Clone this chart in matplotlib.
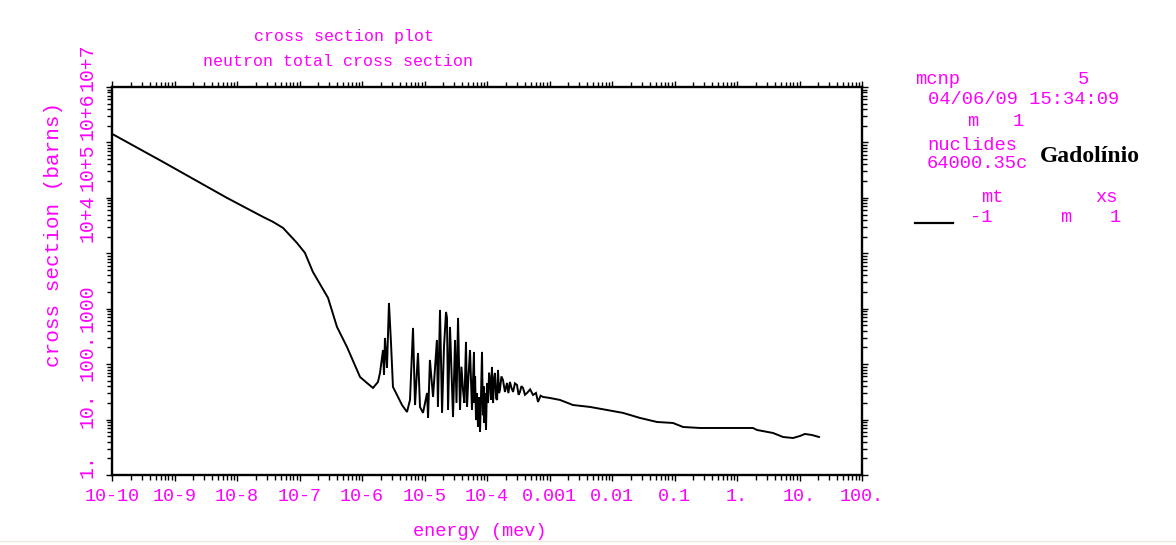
import matplotlib
matplotlib.use("Agg")
import matplotlib.pyplot as plt
from matplotlib.lines import Line2D
from matplotlib.ticker import LogLocator, NullFormatter
import matplotlib.transforms as mtransforms

# Gd (64000.35c) total neutron cross section, energy in MeV, sigma in barns
energy_mev = [
    1.0e-10, 6.5e-10, 6.9e-9, 2.6e-8, 3.77e-8, 5.45e-8, 9.1e-8, 1.22e-7,
    1.64e-7, 2.86e-7, 3.98e-7, 5.75e-7, 9.3e-7, 1.2e-6, 1.5e-6, 1.8e-6,
    1.94e-6, 2.17e-6, 2.25e-6, 2.33e-6, 2.51e-6, 2.70e-6, 2.91e-6, 3.13e-6,
    3.63e-6, 4.37e-6, 5.25e-6, 5.86e-6, 6.55e-6, 7.05e-6, 7.87e-6, 8.47e-6,
    9.46e-6, 1.10e-5, 1.14e-5, 1.22e-5, 1.37e-5, 1.58e-5, 1.64e-5, 1.77e-5,
    1.91e-5, 2.05e-5, 2.21e-5, 2.29e-5, 2.38e-5, 2.56e-5, 2.86e-5, 3.08e-5,
    3.25e-5, 3.44e-5, 3.70e-5, 3.9e-5, 4.13e-5, 4.35e-5, 4.61e-5, 4.79e-5,
    5.05e-5, 5.35e-5, 5.75e-5, 5.97e-5, 6.19e-5, 6.3e-5, 6.45e-5, 6.67e-5,
    6.9e-5, 7.18e-5, 7.45e-5, 7.73e-5, 8.02e-5, 8.32e-5, 8.6e-5, 8.8e-5,
    8.95e-5, 9.3e-5, 9.64e-5, 1.0e-4, 1.04e-4, 1.08e-4, 1.12e-4, 1.16e-4,
    1.20e-4, 1.25e-4, 1.30e-4, 1.34e-4, 1.40e-4, 1.45e-4, 1.50e-4, 1.56e-4,
    1.61e-4, 1.70e-4, 1.80e-4, 1.94e-4, 2.09e-4, 2.2e-4, 2.33e-4, 2.45e-4,
    2.61e-4, 2.8e-4, 3.02e-4, 3.2e-4, 3.37e-4, 3.55e-4, 3.77e-4, 4.05e-4,
    4.37e-4, 4.9e-4, 5.45e-4, 6.08e-4, 6.55e-4, 7.2e-4, 7.87e-4, 1.02e-3,
    1.47e-3, 2.38e-3, 4.45e-3, 8.3e-3, 1.5e-2, 2.8e-2, 5.25e-2, 9.46e-2,
    0.137, 0.256, 1.80, 2.09, 3.77, 5.45, 7.87, 10.2, 12.2, 15.8, 20.5,
]
sigma_barns = [
    1.43e6, 4.47e5, 1.0e5, 4.54e4, 3.69e4, 2.87e4, 1.54e4, 1.02e4,
    4.6e3, 1.57e3, 469, 204, 58.7, 45.8, 37.2, 47.7,
    69.4, 180, 63.8, 297, 85.4, 1270, 241, 38.8,
    27.8, 18.3, 13.7, 22.6, 450, 18.3, 159, 16.9,
    13.2, 30.2, 10.7, 119, 25.6, 273, 16.9, 951,
    13.2, 204, 875, 682, 14.9, 469, 11.1, 273,
    20.0, 682, 14.9, 90, 34.2, 20, 252, 16.9,
    60, 180, 14.9, 51.9, 166, 20, 60, 9.8,
    30, 7.35, 25, 5.97, 27.8, 166, 12, 40,
    8.68, 30, 6.49, 45, 19.9, 70, 51.9, 22.6,
    89, 19.9, 55, 69.4, 24, 22.6, 78.6, 30,
    34.2, 60, 51.9, 31.5, 45.8, 30, 47.7, 38,
    31.5, 45, 42.1, 28, 31.5, 40, 37.2, 28,
    30.2, 35, 27.8, 30.2, 20.8, 27, 25.6, 24.5,
    22.6, 18.3, 16.9, 14.9, 13.2, 10.7, 9.05, 8.68,
    7.35, 7.05, 7.05, 6.49, 5.73, 4.85, 4.65, 5.06, 5.5, 5.27, 4.85,
]

x_tick_values = [1e-10, 1e-9, 1e-8, 1e-7, 1e-6, 1e-5, 1e-4, 1e-3, 1e-2, 1e-1, 1, 10, 100]
x_tick_labels = ["10-10", "10-9", "10-8", "10-7", "10-6", "10-5", "10-4",
                 "0.001", "0.01", "0.1", "1.", "10.", "100."]
y_tick_values = [1, 10, 100, 1000, 1e4, 1e5, 1e6, 1e7]
y_tick_labels = ["1.", "10.", "100.", "1000", "10+4", "10+5", "10+6", "10+7"]
# vertical nudge (pixels, up is negative) of each rotated y label
y_label_nudge_px = [-9, -9, -7, 0, -35, -31, -26, -20]

MAGENTA = "#ff00ff"
MONO = "Liberation Mono"

W, H = 1176, 545
fig = plt.figure(figsize=(W / 100, H / 100), dpi=100)
fig.patch.set_facecolor("white")


def px(x, y):
    return x / W, 1 - y / H


ax = fig.add_axes([112 / W, 70 / H, 750 / W, 388 / H])
ax.set_xscale("log")
ax.set_yscale("log")
ax.set_xlim(1e-10, 100)
ax.set_ylim(1, 1e7)
ax.plot(energy_mev, sigma_barns, color="black", lw=1.4, solid_joinstyle="miter")

for s in ax.spines.values():
    s.set_linewidth(1.7)
    s.set_color("black")

ax.xaxis.set_major_locator(LogLocator(base=10, numticks=20))
ax.xaxis.set_minor_locator(LogLocator(base=10, subs=range(2, 10), numticks=200))
ax.yaxis.set_major_locator(LogLocator(base=10, numticks=20))
ax.yaxis.set_minor_locator(LogLocator(base=10, subs=range(2, 10), numticks=200))
ax.xaxis.set_minor_formatter(NullFormatter())
ax.yaxis.set_minor_formatter(NullFormatter())
ax.tick_params(which="both", direction="out", top=True, right=True,
               width=1.0, color="black")
ax.tick_params(which="major", length=4.5)
ax.tick_params(which="minor", length=3.5)

ax.set_xticks(x_tick_values)
ax.set_xticklabels(x_tick_labels, family=MONO, fontsize=13.2, color=MAGENTA)
ax.tick_params(axis="x", which="major", pad=5)
ax.set_yticks(y_tick_values)
ax.set_yticklabels([])

ytrans = ax.get_yaxis_transform()
for val, lab, nudge in zip(y_tick_values, y_tick_labels, y_label_nudge_px):
    off = mtransforms.ScaledTranslation(-25 / 100, -nudge / 100, fig.dpi_scale_trans)
    ax.text(0, val, lab, transform=ytrans + off, rotation=90,
            ha="center", va="center", family=MONO, fontsize=14.3,
            color=MAGENTA, clip_on=False)

fig.text(*px(54, 234), "cross section (barns)", rotation=90, ha="center",
         va="center", family=MONO, fontsize=15.1, color=MAGENTA)
fig.text(*px(480, 532), "energy (mev)", ha="center", va="center",
         family=MONO, fontsize=13.4, color=MAGENTA)

fig.text(*px(344, 36), "cross section plot", ha="center", va="center",
         family=MONO, fontsize=12, color=MAGENTA)
fig.text(*px(338, 62), "neutron total cross section", ha="center", va="center",
         family=MONO, fontsize=12, color=MAGENTA)

side = dict(ha="left", va="center", family=MONO, fontsize=13.5, color=MAGENTA)
fig.text(*px(915, 80), "mcnp", **side)
fig.text(*px(1078, 80), "5", **side)
fig.text(*px(928, 100), "04/06/09 15:34:09", **side)
fig.text(*px(968, 121), "m   1", **side)
fig.text(*px(927, 146), "nuclides", **side)
fig.text(*px(927, 163), "64000.35c", **side)
fig.text(*px(1040, 157), "Gadolínio", ha="left", va="center",
         family="Liberation Serif", fontweight="bold", fontsize=17,
         color="black")
fig.text(*px(992, 197), "mt", ha="center", va="center", family=MONO,
         fontsize=13.5, color=MAGENTA)
fig.text(*px(1106, 197), "xs", ha="center", va="center", family=MONO,
         fontsize=13.5, color=MAGENTA)
fig.text(*px(981, 217), "-1", ha="center", va="center", family=MONO,
         fontsize=13.5, color=MAGENTA)
fig.text(*px(1060, 217), "m", **side)
fig.text(*px(1110, 217), "1", **side)

x0, y0 = px(915, 223)
x1, _ = px(953, 223)
fig.add_artist(Line2D([x0, x1], [y0, y0], color="black", lw=1.6,
                      transform=fig.transFigure))

ya = px(0, 541)[1]
fig.add_artist(Line2D([0, 1], [ya, ya], color="#ece9dc", lw=1.0,
                      transform=fig.transFigure))

fig.savefig("out.png", dpi=100, facecolor="white")
